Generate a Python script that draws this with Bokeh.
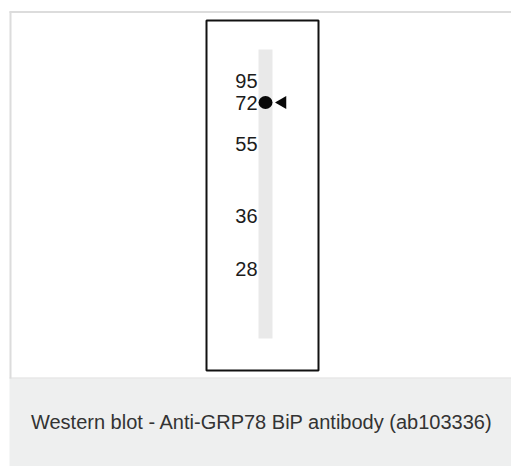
import math
from bokeh.plotting import figure
from bokeh.models import Range1d
from bokeh.embed import file_html
from bokeh.resources import INLINE
from bokeh.core.properties import value

# --- data ---
marker_labels = ["95", "72", "55", "36", "28"]      # kDa ladder labels
marker_migration = [80, 102, 143, 215, 268]          # migration position of each ladder mark
band_labels = ["GRP78"]
band_migration = [102]                               # detected band position
caption = "Western blot - Anti-GRP78 BiP antibody (ab103336)"

FONT = value("Liberation Sans")

p = figure(width=511, height=466, output_backend="svg", toolbar_location=None,
           x_range=Range1d(0, 511), y_range=Range1d(466, 0),
           min_border=0, min_border_left=0, min_border_right=0,
           min_border_top=0, min_border_bottom=0)
p.axis.visible = False
p.grid.visible = False
p.outline_line_color = None
p.background_fill_color = "white"
p.border_fill_color = "white"

# card frame
p.quad(left=[9], right=[511], top=[378], bottom=[466], fill_color="#eeefef", line_color=None)
p.segment(x0=[9], y0=[11.5], x1=[511], y1=[11.5], line_color="#dcdcdc", line_width=2)
p.segment(x0=[10], y0=[11], x1=[10], y1=[378], line_color="#dcdcdc", line_width=2)
p.segment(x0=[9], y0=[377.5], x1=[511], y1=[377.5], line_color="#dcdcdc", line_width=1)

# blot box
p.quad(left=[206], right=[318], top=[20], bottom=[370], fill_color="white",
       line_color="#111111", line_width=2)
# lane
p.quad(left=[258], right=[272], top=[49], bottom=[338], fill_color="#e9e9e9", line_color=None)

# ladder labels
p.text(x=[257] * len(marker_labels), y=marker_migration, text=marker_labels,
       text_font=FONT, text_font_size="20px", text_color="#1c1c1c",
       text_align="right", text_baseline="middle")

# band and arrow
p.ellipse(x=[265] * len(band_migration), y=band_migration, width=14, height=13,
          fill_color="#080808", line_color=None)
p.scatter(x=[282] * len(band_migration), y=band_migration, marker="triangle", size=13,
          angle=math.pi / 2, fill_color="#080808", line_color=None)

# caption
p.text(x=[261.5], y=[421], text=[caption], text_font=FONT, text_font_size="20px",
       text_color="#333333", text_align="center", text_baseline="middle")

open("out.html", "w").write(file_html(p, INLINE))
